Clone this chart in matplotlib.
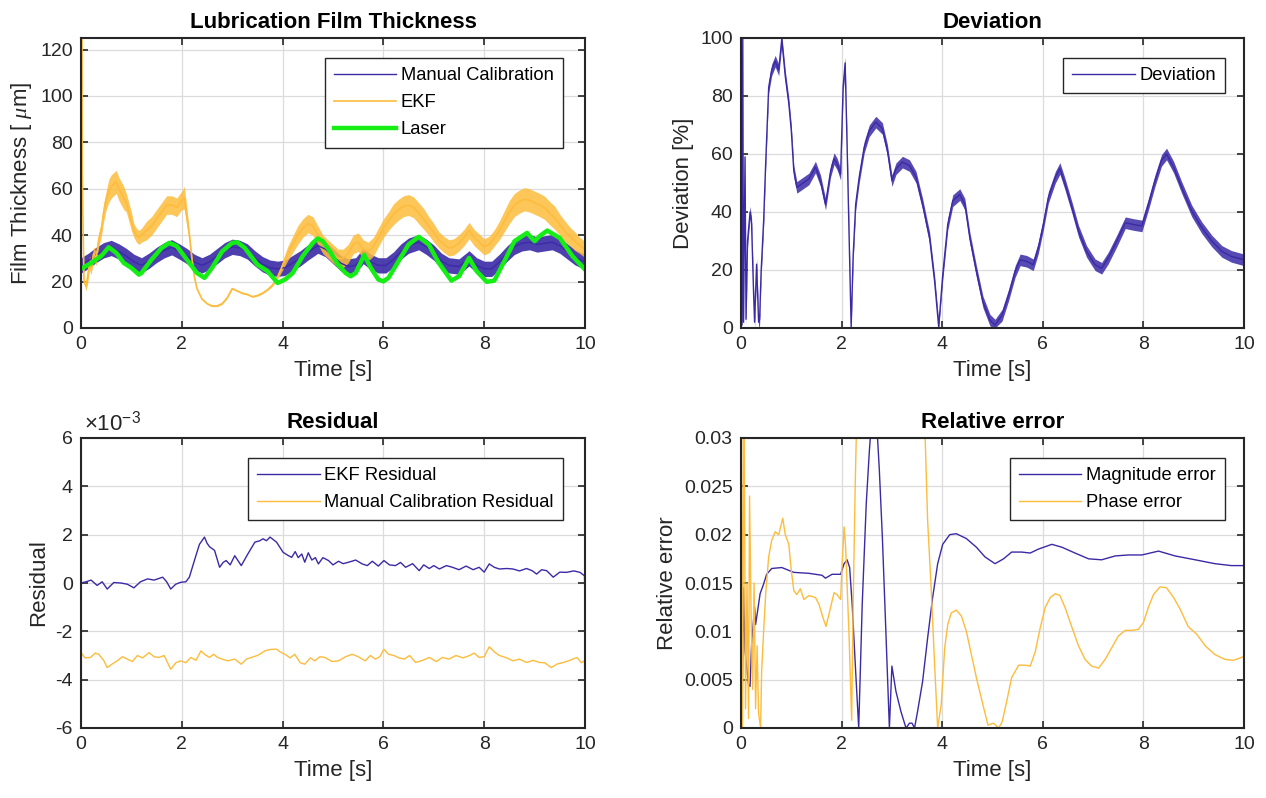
import numpy as np
import matplotlib
matplotlib.use("Agg")
import matplotlib.pyplot as plt
from matplotlib.ticker import FuncFormatter

plt.rcParams['font.family'] = ['Liberation Sans', 'DejaVu Sans']
plt.rcParams['axes.unicode_minus'] = False
plt.rcParams['mathtext.fontset'] = 'custom'
plt.rcParams['mathtext.it'] = 'Liberation Serif:italic'
plt.rcParams['mathtext.rm'] = 'Liberation Sans'

BLUE = '#3b2aa6'
ORANGE = '#fdbc3c'
GREEN = '#14ee14'

# ---------------- Lubrication film thickness ----------------
mc_t = [0, 0.15, 0.3, 0.45, 0.6, 0.75, 0.9, 1.05, 1.2, 1.35, 1.5, 1.65, 1.8, 1.95, 2.1, 2.25, 2.4, 2.55,
        2.7, 2.85, 3.0, 3.15, 3.3, 3.45, 3.6, 3.75, 3.9, 4.05, 4.2, 4.35, 4.5, 4.7, 4.85, 5.0, 5.15, 5.3,
        5.45, 5.6, 5.75, 5.9, 6.05, 6.2, 6.35, 6.5, 6.7, 6.85, 7.0, 7.15, 7.3, 7.5, 7.7, 7.85, 8.0, 8.15,
        8.3, 8.45, 8.6, 8.75, 8.9, 9.05, 9.2, 9.35, 9.5, 9.65, 9.8, 10]
mc_val = [27, 29, 31.5, 33.5, 34.5, 33, 31, 28.5, 27, 29, 31.5, 33.5, 34.8, 33, 31, 28.5, 27, 28.5,
          31, 33.5, 35, 34.5, 33, 30, 27.5, 26, 25.5, 26, 28, 30, 32.5, 35.5, 34, 31, 28, 26.5,
          27, 31, 28.5, 27, 27, 29.5, 33, 35.5, 37, 35, 32.5, 29, 27, 26.5, 30, 27, 25.5, 25.5,
          28.5, 32, 35, 36.5, 37, 36, 36.5, 37, 35.5, 33, 30.5, 28.5]
mc_spread = 3.3

ekf_t = [0.02, 0.025, 0.04, 0.06, 0.1, 0.13, 0.17, 0.2, 0.25, 0.3, 0.35, 0.4, 0.45, 0.5, 0.55, 0.6, 0.65,
         0.7, 0.75, 0.8, 0.85, 0.9, 0.95, 1.0, 1.05, 1.1, 1.15, 1.2, 1.3, 1.4, 1.5, 1.6, 1.7, 1.8, 1.9,
         2.0, 2.05, 2.1, 2.15, 2.2, 2.25, 2.3, 2.4, 2.5, 2.6, 2.7, 2.8, 2.9, 2.95, 3.0, 3.05, 3.1, 3.2,
         3.3, 3.4, 3.5, 3.6, 3.7, 3.8, 3.9, 4.0, 4.1, 4.2, 4.3, 4.4, 4.5, 4.6, 4.7, 4.8, 4.9, 5.0, 5.1,
         5.2, 5.3, 5.4, 5.5, 5.6, 5.7, 5.8, 5.9, 6.0, 6.1, 6.2, 6.3, 6.4, 6.5, 6.6, 6.7, 6.8, 6.9, 7.0,
         7.1, 7.2, 7.3, 7.4, 7.5, 7.6, 7.7, 7.8, 7.9, 8.0, 8.1, 8.2, 8.3, 8.4, 8.5, 8.6, 8.7, 8.8, 8.9,
         9.0, 9.1, 9.2, 9.3, 9.4, 9.5, 9.6, 9.7, 9.8, 9.9, 10]
ekf_val = [125, 68, 45, 20, 18, 22, 28, 26, 32, 30, 38, 42, 50, 55, 59, 61, 62,
           63, 60, 58, 56, 54, 50, 46, 42, 40, 39, 40, 42, 44, 47, 50, 53, 53, 52,
           55, 56, 48, 40, 30, 22, 17, 12.5, 10.5, 9.5, 9.5, 10.5, 13, 15, 17, 16.5, 16, 15,
           14.5, 13.5, 14, 15, 16.5, 18.5, 22, 27, 32, 36, 40, 43, 45, 44, 40, 36, 34, 32, 30,
           30, 32, 36, 37, 34, 33, 35, 39, 43, 46, 49, 51, 52.5, 53, 52, 49.5, 47, 44, 41,
           38, 36, 34.5, 35, 36.7, 39, 42, 39, 37, 35, 36, 38.8, 42, 46, 50, 53, 54.5, 55.5, 55,
           54, 53, 51.8, 49.5, 47.5, 44.5, 41.7, 39.5, 37.4, 35.5, 33.8]
ekf_spread = [0, 0, 0, 1, 2, 3, 3, 3, 3, 3, 3, 3, 4, 4, 5, 5, 5,
              5, 5, 5, 5, 4, 4, 4, 3, 3, 3, 3, 4, 4, 4, 4, 4, 4, 4,
              4, 5, 4, 2, 1, 0.5, 0.3, 0.3, 0.3, 0.3, 0.3, 0.3, 0.3, 0.3, 0.3, 0.3, 0.3, 0.3,
              0.3, 0.3, 0.3, 0.3, 0.3, 0.5, 1, 2, 3, 3.5, 4, 4, 4, 4, 4, 4, 4, 4, 4,
              4, 4, 4, 4, 4, 4, 4, 4, 4, 4, 4.5, 4.5, 4.5, 4.5, 4.5, 4.5, 4.5, 4, 4,
              3.5, 3.5, 3.5, 3.5, 3.5, 3.5, 3.5, 3.5, 3.5, 3.5, 3.5, 3.5, 4, 4.5, 5, 5, 5, 5, 5,
              5, 5, 5, 5, 5, 4.5, 4.5, 4, 4, 3.5, 3.5]

laser_t = [0, 0.2, 0.4, 0.55, 0.7, 0.85, 1.0, 1.15, 1.2, 1.4, 1.6, 1.75, 1.9, 2.1, 2.3, 2.45, 2.6, 2.8,
           3.0, 3.1, 3.25, 3.5, 3.7, 3.9, 4.05, 4.2, 4.4, 4.6, 4.7, 4.8, 4.94, 5.1, 5.25, 5.35, 5.45,
           5.62, 5.75, 5.9, 6.0, 6.1, 6.3, 6.5, 6.7, 6.9, 7.1, 7.35, 7.5, 7.7, 7.85, 8.05, 8.2, 8.4,
           8.6, 8.85, 9.0, 9.1, 9.25, 9.5, 9.75, 10]
laser_val = [25.5, 28, 31, 34.8, 32.4, 28, 25.9, 23, 23.7, 29.5, 34.5, 36.7, 35.3, 29.5, 23.7, 21.6, 25.9, 33,
             36.7, 37, 34.5, 27.3, 24.5, 19.4, 20.9, 23.7, 31, 36.7, 38.6, 37.4, 33, 27.3, 23.7, 22.3, 23.7,
             31.5, 25.9, 20.9, 20.1, 21.6, 28.8, 36, 39.3, 36, 28, 20.4, 22.3, 30.2, 24.5, 19.9, 20.4, 28.8,
             37.4, 41, 37.4, 39.6, 42, 38.8, 31, 25.2]

# ---------------- Deviation ----------------
dev_t = [0, 0.02, 0.035, 0.05, 0.08, 0.1, 0.13, 0.18, 0.21, 0.25, 0.27, 0.31, 0.35, 0.37, 0.4, 0.45,
         0.49, 0.55, 0.61, 0.68, 0.75, 0.81, 0.88, 0.95, 1.0, 1.05, 1.11, 1.21, 1.35, 1.48, 1.58, 1.68,
         1.78, 1.85, 1.91, 1.98, 2.03, 2.07, 2.11, 2.15, 2.19, 2.23, 2.28, 2.35, 2.45, 2.55, 2.68, 2.81,
         2.91, 3.0, 3.08, 3.21, 3.35, 3.48, 3.61, 3.75, 3.85, 3.93, 4.01, 4.11, 4.21, 4.35, 4.45, 4.55,
         4.68, 4.81, 4.95, 5.05, 5.19, 5.32, 5.45, 5.55, 5.68, 5.81, 5.91, 6.01, 6.11, 6.25, 6.34,
         6.44, 6.58, 6.71, 6.87, 7.04, 7.17, 7.3, 7.47, 7.64, 7.8, 7.97, 8.1, 8.23, 8.36, 8.46, 8.6,
         8.76, 8.96, 9.16, 9.36, 9.56, 9.75, 10]
dev_val = [100, 1, 100, 2, 59, 3, 30, 40, 36, 12, 2, 22, 2, 3, 19.5, 37,
           56.6, 83, 89, 92, 89, 99.5, 86.8, 77.5, 68, 54, 48.5, 49.7, 51.4, 55.5, 50.8, 42.7,
           54, 58.4, 56.6, 53, 83, 91.4, 62.4, 31, 0.3, 25, 42.7, 52, 62.4, 68, 71, 68.8,
           61.3, 50.8, 54.9, 57.2, 56, 52, 42.7, 31, 16, 0.3, 18.3, 35.7, 43.9, 46, 42.7, 31,
           19.5, 9, 2.7, 1, 4.4, 11.4, 19.5, 23.5, 23, 21.8, 27.6, 35.7, 45, 52, 55,
           49.7, 41.5, 33.4, 26.4, 21.8, 20.6, 24.1, 30, 36.3, 35.7, 35.2, 42.7, 50.8, 57.8, 60, 55.5,
           48.5, 40.4, 34.6, 30, 26.4, 24.7, 23.5]
dev_spread = 2.0

# ---------------- Residual (x 1e-3) ----------------
res_ekf_t = [0, 0.1, 0.2, 0.32, 0.42, 0.52, 0.65, 0.79, 0.92, 1.05, 1.18, 1.32, 1.45, 1.62, 1.7, 1.78,
             1.88, 1.98, 2.08, 2.15, 2.25, 2.35, 2.45, 2.5, 2.55, 2.65, 2.75, 2.82, 2.88, 2.96, 3.05,
             3.18, 3.31, 3.45, 3.55, 3.61, 3.68, 3.75, 3.88, 4.01, 4.1, 4.18, 4.25, 4.31, 4.38, 4.44,
             4.51, 4.58, 4.65, 4.71, 4.8, 4.91, 5.0, 5.11, 5.2, 5.31, 5.45, 5.58, 5.68, 5.78, 5.9,
             6.01, 6.12, 6.24, 6.34, 6.44, 6.58, 6.71, 6.8, 6.91, 7.0, 7.11, 7.25, 7.37, 7.5, 7.64,
             7.78, 7.9, 8.0, 8.1, 8.2, 8.3, 8.45, 8.57, 8.7, 8.84, 8.95, 9.04, 9.14, 9.24, 9.37,
             9.5, 9.63, 9.78, 9.9, 9.99, 10]
res_ekf_val = [0, 0.05, 0.12, -0.1, 0.05, -0.25, 0.02, 0, -0.05, -0.2, 0.05, 0.17, 0.12, 0.24, 0.05,
               -0.25, -0.05, 0.03, 0.05, 0.24, 0.93, 1.6, 1.9, 1.65, 1.5, 1.35, 0.65, 0.85, 0.93, 0.75,
               1.13, 0.72, 1.2, 1.69, 1.75, 1.83, 1.75, 1.9, 1.69, 1.27, 1.15, 1.06, 1.3, 1.05, 1.2,
               0.86, 1.25, 0.95, 1.05, 0.79, 1.05, 0.93, 0.75, 0.9, 0.8, 0.86, 0.95, 0.79, 0.72, 0.9,
               0.7, 0.93, 0.75, 0.72, 0.85, 0.65, 0.8, 0.51, 0.75, 0.6, 0.72, 0.58, 0.72, 0.65, 0.55,
               0.7, 0.55, 0.65, 0.45, 0.79, 0.65, 0.58, 0.6, 0.58, 0.5, 0.6, 0.51, 0.37, 0.55, 0.51,
               0.24, 0.45, 0.44, 0.5, 0.44, 0.3, -0.8]

res_mc_t = [0, 0.08, 0.19, 0.28, 0.35, 0.45, 0.52, 0.62, 0.72, 0.82, 0.92, 1.02, 1.12, 1.22, 1.35, 1.45,
            1.55, 1.65, 1.78, 1.88, 1.98, 2.08, 2.18, 2.28, 2.38, 2.45, 2.55, 2.63, 2.71, 2.8, 2.91,
            3.05, 3.18, 3.28, 3.38, 3.5, 3.65, 3.75, 3.88, 3.95, 4.05, 4.15, 4.24, 4.35, 4.44, 4.55,
            4.64, 4.74, 4.84, 4.98, 5.11, 5.25, 5.38, 5.5, 5.64, 5.74, 5.84, 5.93, 6.01, 6.1, 6.21,
            6.31, 6.41, 6.52, 6.64, 6.78, 6.91, 7.05, 7.17, 7.3, 7.44, 7.58, 7.71, 7.8, 7.9, 8.0, 8.1,
            8.2, 8.3, 8.45, 8.57, 8.7, 8.84, 8.97, 9.1, 9.2, 9.33, 9.45, 9.57, 9.7, 9.84, 9.93, 9.99, 10]
res_mc_val = [-2.88, -3.1, -3.08, -2.9, -2.95, -3.2, -3.5, -3.35, -3.22, -3.05, -3.15, -3.25, -3.0, -3.1,
              -2.88, -3.05, -3.08, -3.0, -3.57, -3.3, -3.22, -3.3, -3.08, -3.2, -2.81, -2.95, -3.08, -2.95,
              -3.08, -3.15, -3.22, -3.15, -3.36, -3.15, -3.08, -3.0, -2.81, -2.75, -2.74, -2.85, -2.95,
              -3.1, -2.95, -3.3, -3.36, -3.1, -3.22, -3.05, -3.08, -3.25, -3.22, -3.05, -2.95, -3.05,
              -3.22, -3.0, -3.15, -3.05, -2.74, -2.95, -3.0, -3.1, -3.15, -3.0, -3.29, -3.2, -3.08,
              -3.25, -3.08, -3.15, -3.0, -3.1, -3.0, -2.9, -3.08, -3.05, -2.64, -2.85, -3.0, -3.1, -3.22,
              -3.15, -3.29, -3.2, -3.29, -3.3, -3.5, -3.35, -3.29, -3.2, -3.08, -3.3, -3.22, -4.3]

# ---------------- Relative error ----------------
mag_t = [0.005, 0.02, 0.05, 0.08, 0.15, 0.18, 0.21, 0.27, 0.29, 0.33, 0.38, 0.45, 0.51, 0.61, 0.81, 1.05,
         1.35, 1.61, 1.68, 1.81, 1.98, 2.05, 2.11, 2.16, 2.21, 2.28, 2.34, 2.41, 2.49, 2.55, 2.65, 2.75,
         2.81, 2.88, 2.95, 3.0, 3.08, 3.18, 3.28, 3.35, 3.4, 3.45, 3.51, 3.61, 3.71, 3.81, 3.91, 4.01,
         4.15, 4.28, 4.48, 4.68, 4.85, 5.05, 5.22, 5.38, 5.58, 5.75, 5.91, 6.18, 6.38, 6.64, 6.91,
         7.17, 7.44, 7.7, 7.97, 8.3, 8.63, 9.03, 9.42, 9.75, 10]
mag_val = [0.0172, 0.001, 0.0145, 0.008, 0.0045, 0.0043, 0.0086, 0.0125, 0.0107, 0.0121, 0.0139, 0.0149,
           0.0159, 0.0165, 0.0166, 0.0161, 0.016, 0.0158, 0.0155, 0.0159, 0.0159, 0.017, 0.0174, 0.0166,
           0.0128, 0.0058, 0.0, 0.0128, 0.0232, 0.0285, 0.036, 0.0267, 0.0198, 0.01, 0.0, 0.0064, 0.0038,
           0.0017, 0.0, 0.0005, 0.0005, 0.0, 0.0017, 0.0048, 0.0093, 0.0135, 0.017, 0.019,
           0.02, 0.0201, 0.0196, 0.0187, 0.0177, 0.017, 0.0175, 0.0182, 0.0182, 0.0181, 0.0185, 0.019,
           0.0187, 0.0181, 0.0175, 0.0174, 0.0178, 0.0179, 0.0179, 0.0183, 0.0178, 0.0174, 0.017,
           0.0168, 0.0168]

ph_t = [0.005, 0.012, 0.03, 0.06, 0.09, 0.12, 0.15, 0.17, 0.2, 0.23, 0.26, 0.29, 0.32, 0.35, 0.39, 0.41, 0.45,
        0.49, 0.55, 0.61, 0.68, 0.75, 0.83, 0.88, 0.95, 1.0, 1.05, 1.11, 1.18, 1.25, 1.35, 1.48, 1.55,
        1.63, 1.69, 1.75, 1.85, 1.91, 1.98, 2.01, 2.05, 2.08, 2.15, 2.2, 2.23, 2.27, 2.3, 2.9, 3.65,
        3.71, 3.78, 3.85, 3.91, 3.98, 4.05, 4.11, 4.18, 4.28, 4.38, 4.48, 4.58, 4.68, 4.81, 4.91, 5.02,
        5.12, 5.19, 5.28, 5.38, 5.52, 5.65, 5.75, 5.85, 5.95, 6.05, 6.15, 6.25, 6.34, 6.44, 6.58, 6.71,
        6.84, 6.97, 7.11, 7.24, 7.37, 7.5, 7.64, 7.77, 7.9, 8.0, 8.1, 8.2, 8.33, 8.46, 8.6, 8.73, 8.89,
        9.06, 9.23, 9.42, 9.62, 9.79, 10]
ph_val = [0.027, 0.035, 0.0, 0.035, 0.002, 0.015, 0.001, 0.024, 0.012, 0.004, 0.015, 0.002, 0.0085, 0.0015,
          0.0, 0.0058, 0.01, 0.0138, 0.0177, 0.0194, 0.0203, 0.02, 0.0217, 0.02, 0.019, 0.0163, 0.0142,
          0.0138, 0.0144, 0.0133, 0.0137, 0.0135, 0.0128, 0.0114, 0.0105, 0.0118, 0.014, 0.0138, 0.0133,
          0.017, 0.0208, 0.0187, 0.0093, 0.0008, 0.0128, 0.025, 0.032, 0.08, 0.032, 0.0215, 0.0145,
          0.0065, 0.0, 0.0024, 0.0083, 0.0107, 0.0119, 0.0122, 0.0116, 0.01, 0.0076, 0.0052, 0.0024,
          0.0003, 0.0005, 0.0, 0.0006, 0.0027, 0.0052, 0.0065, 0.0065, 0.0064, 0.0079, 0.0104, 0.0125,
          0.0135, 0.0139, 0.0137, 0.0125, 0.0104, 0.0085, 0.0071, 0.0064, 0.0062, 0.0071, 0.0083,
          0.0095, 0.0101, 0.0101, 0.0102, 0.0109, 0.0125, 0.0138, 0.0146, 0.0145, 0.0135, 0.0123,
          0.0105, 0.0097, 0.0085, 0.0076, 0.0071, 0.007, 0.0074]

# ---------------- figure ----------------
W, H = 1266, 798
fig = plt.figure(figsize=(W / 100, H / 100), dpi=100)


def px_axes(x0, x1, y0, y1):
    return fig.add_axes([x0 / W, 1 - y1 / H, (x1 - x0) / W, (y1 - y0) / H])


TICK_FS = 14
LABEL_FS = 16
LEG_FS = 13.2


def style(ax, title, ylabel):
    ax.set_title(title, fontsize=LABEL_FS, fontweight='bold', pad=7)
    ax.set_xlabel('Time [s]', fontsize=LABEL_FS, color='#262626', labelpad=5)
    ax.set_ylabel(ylabel, fontsize=LABEL_FS, color='#262626')
    ax.set_xlim(0, 10)
    ax.set_xticks(np.arange(0, 11, 2))
    ax.grid(True, color='#dcdcdc', linewidth=0.9)
    ax.set_axisbelow(True)
    ax.tick_params(direction='in', length=5, width=1.2, top=True, right=True,
                   labelsize=TICK_FS, colors='#262626', pad=6)
    for s in ax.spines.values():
        s.set_linewidth(1.5)
        s.set_color('#262626')


def legend(ax, x, y):
    lg = ax.legend(loc='upper right', bbox_to_anchor=(x, y), borderaxespad=0, fontsize=LEG_FS,
                   fancybox=False, framealpha=1, edgecolor='#262626', handlelength=3.4,
                   labelspacing=0.55, borderpad=0.5, handletextpad=0.25)
    lg.get_frame().set_linewidth(1.0)
    return lg


# Top-left
ax1 = px_axes(81, 585, 38, 328)
mc_t_a, mc_v_a = np.array(mc_t), np.array(mc_val)
ax1.fill_between(mc_t_a, mc_v_a - mc_spread, mc_v_a + mc_spread, color=BLUE, alpha=0.9, linewidth=0)
ax1.plot(mc_t_a, mc_v_a, color=BLUE, linewidth=1.0, label='Manual Calibration')
ek_t_a, ek_v_a, ek_s_a = np.array(ekf_t), np.array(ekf_val), np.array(ekf_spread)
ax1.fill_between(ek_t_a, ek_v_a - ek_s_a, ek_v_a + ek_s_a, color=ORANGE, alpha=0.85, linewidth=0)
ax1.plot(ek_t_a, ek_v_a, color=ORANGE, linewidth=1.2, label='EKF')
ax1.plot(laser_t, laser_val, color=GREEN, linewidth=3.2, label='Laser')
style(ax1, 'Lubrication Film Thickness', r'Film Thickness [ $\mu$m]')
ax1.set_ylim(0, 125)
ax1.set_yticks(np.arange(0, 121, 20))
legend(ax1, 0.956, 0.931)

# Top-right
ax2 = px_axes(741, 1244, 38, 328)
dv_t_a, dv_v_a = np.array(dev_t), np.array(dev_val)
ax2.fill_between(dv_t_a, np.clip(dv_v_a - dev_spread, 0, None), dv_v_a + dev_spread,
                 color=BLUE, alpha=0.85, linewidth=0)
ax2.plot(dv_t_a, dv_v_a, color=BLUE, linewidth=1.0, label='Deviation')
style(ax2, 'Deviation', 'Deviation [%]')
ax2.set_ylim(0, 100)
ax2.set_yticks(np.arange(0, 101, 20))
legend(ax2, 0.962, 0.931)

# Bottom-left
ax3 = px_axes(81, 585, 438, 728)
ax3.plot(res_ekf_t, np.array(res_ekf_val) * 1e-3, color=BLUE, linewidth=1.0, label='EKF Residual')
ax3.plot(res_mc_t, np.array(res_mc_val) * 1e-3, color=ORANGE, linewidth=1.0,
         label='Manual Calibration Residual')
style(ax3, 'Residual', 'Residual')
ax3.set_ylim(-6e-3, 6e-3)
ax3.set_yticks(np.arange(-6, 7, 2) * 1e-3)
ax3.yaxis.set_major_formatter(FuncFormatter(lambda v, p: '%g' % round(v * 1e3)))
ax3.text(0.005, 1.01, '\u00d710$^{\\mathregular{-3}}$', transform=ax3.transAxes, fontsize=16,
         color='#262626', ha='left', va='bottom')
legend(ax3, 0.956, 0.931)

# Bottom-right
ax4 = px_axes(741, 1244, 438, 728)
ax4.plot(mag_t, mag_val, color=BLUE, linewidth=1.0, label='Magnitude error')
ax4.plot(ph_t, ph_val, color=ORANGE, linewidth=1.0, label='Phase error')
style(ax4, 'Relative error', 'Relative error')
ax4.set_ylim(0, 0.03)
ax4.set_yticks(np.arange(0, 0.0301, 0.005))
ax4.yaxis.set_major_formatter(FuncFormatter(lambda v, p: '%g' % round(v, 4)))
legend(ax4, 0.962, 0.931)

fig.savefig('out.png', dpi=100)
